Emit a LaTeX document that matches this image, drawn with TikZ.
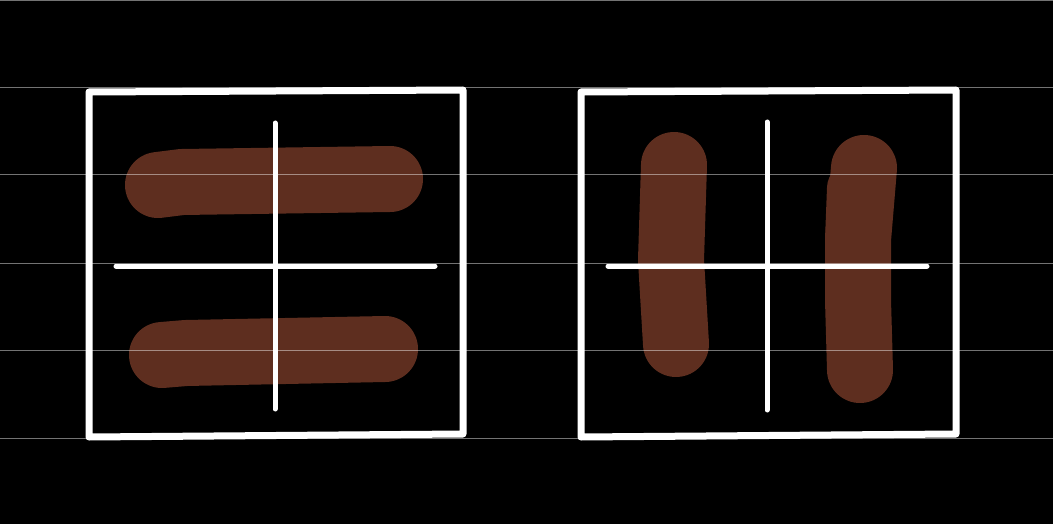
\documentclass[tikz,border=0pt]{standalone}
\definecolor{smearbrown}{RGB}{94,46,31}
\tikzset{
  frame/.style={draw=white,line width=7pt,line join=round},
  axis/.style={draw=white,line width=5pt,line cap=round},
  smear/.style={draw=smearbrown,line width=66pt,line cap=round,line join=round},
  rule/.style={draw=white,opacity=0.45,line width=1pt}
}
\begin{document}
\begin{tikzpicture}[x=1pt,y=-1pt]
  \fill[black] (0,0) rectangle (1053,524);
  \useasboundingbox (0,0) rectangle (1053,524);
  % left panel: two horizontal smears
  \draw[smear] (158,185) -- (182,182) -- (390,179);
  \draw[smear] (162,355) -- (186,353) -- (385,349);
  \draw[frame] (89,92) -- (463,90) -- (463,434) -- (89,437) -- cycle;
  \draw[axis] (116,266) -- (435,266); \draw[axis] (275,123) -- (275,409);
  % right panel: two vertical smears
  \draw[smear] (674,165) -- (671,260) -- (676,344);
  \draw[smear] (864,168) -- (858,240) -- (858,300) -- (860,370);
  \draw[smear,line width=50pt] (852,188) -- (850,240);
  \draw[frame] (581,92) -- (956,90) -- (956,434) -- (581,437) -- cycle;
  \draw[axis] (608,266) -- (927,266); \draw[axis] (767,122) -- (767,410);
  % ruled background lines
  \foreach \y in {0.5,88,175,263,350,438} {\draw[rule] (0,\y) -- (1053,\y);}
\end{tikzpicture}
\end{document}
